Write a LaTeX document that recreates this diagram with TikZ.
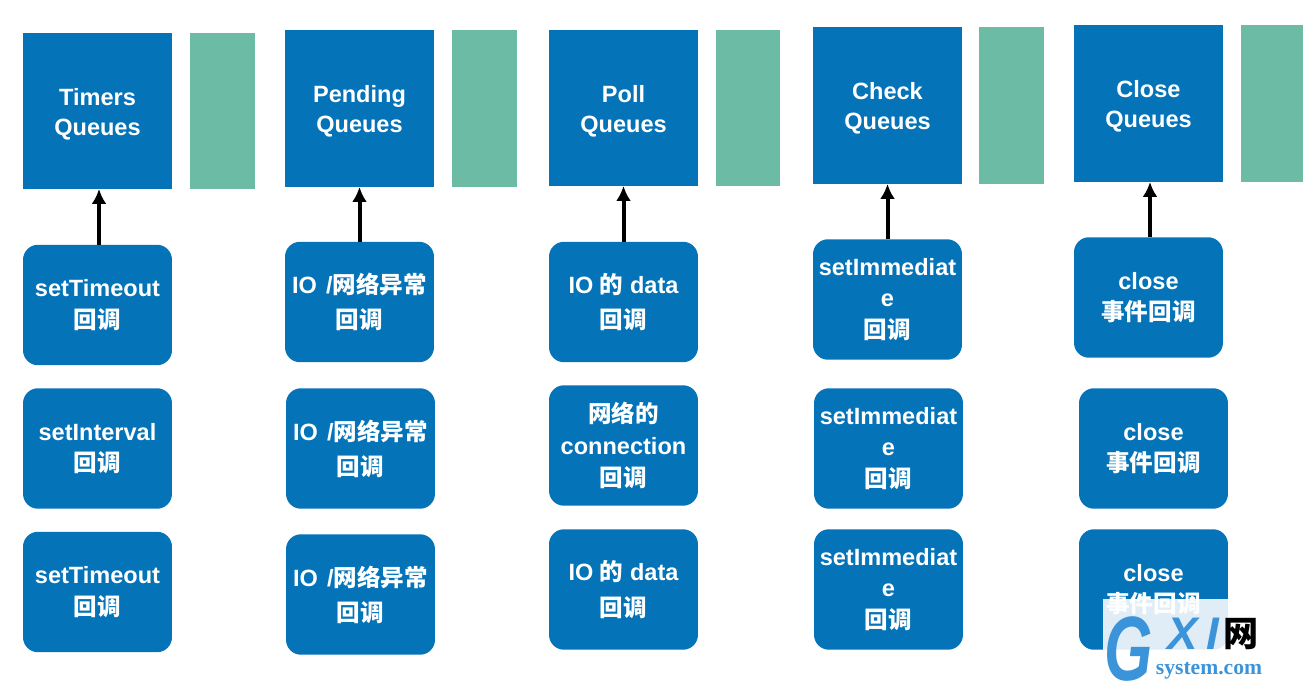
\documentclass[tikz,border=0pt]{standalone}
\usepackage{fontspec}
\usetikzlibrary{arrows.meta}
\setmainfont{Liberation Sans}
\newfontfamily\cjk{Noto Sans CJK SC}
\newfontfamily\wmserif{Liberation Serif}
\definecolor{queueblue}{HTML}{0473B8}
\definecolor{bufgreen}{HTML}{6BBBA5}
\definecolor{wmblue}{HTML}{3B94D9}
\tikzset{
    queuebox/.style={fill=queueblue, text=white, font=\bfseries\fontsize{13.4}{17}\selectfont, align=center, minimum width=2.98cm, inner sep=0pt, outer sep=0pt, execute at begin node=\rule{0pt}{30.3pt}},
    bufbox/.style={fill=bufgreen, minimum width=1.3cm, inner sep=0pt},
    cbbox/.style={fill=queueblue, text=white, align=center, minimum width=2.98cm, inner sep=0pt, outer sep=0pt, rounded corners=0.3cm, minimum height=2.41cm, font=\bfseries\fontsize{13.4}{18}\selectfont},
    wmtext/.style={text=wmblue, inner sep=0pt}
}
\begin{document}
\begin{tikzpicture}[x=0.02cm, y=-0.02cm, >={Latex[length=0.3cm, width=0.3cm]}]
    \useasboundingbox (0, 0) rectangle (1303, 699);

    % 1. Timers
    \node[queuebox, minimum height=3.12cm] (timers) at (97.5, 111) {Timers\\Queues};
    \node[bufbox, minimum height=3.12cm] (timersbuf) at (222.5, 111) {};
    \node[cbbox] (timersa) at (97.5, 305) {setTimeout\\{\cjk 回调}};
    \node[cbbox] (timersb) at (97.5, 448.5) {setInterval\\{\cjk 回调}};
    \node[cbbox] (timersc) at (97.5, 592) {setTimeout\\{\cjk 回调}};
    \draw[->, line width=0.08cm] ([xshift=0.03cm]timersa.north) -- ([xshift=0.03cm]timers.south);

    % 2. Pending
    \node[queuebox, minimum height=3.14cm] (pending) at (359.5, 108.5) {Pending\\Queues};
    \node[bufbox, minimum height=3.14cm] (pendingbuf) at (484.5, 108.5) {};
    \node[cbbox] (pendinga) at (359.5, 302) {IO \kern1.5pt/{\cjk 网络异常}\\[2pt]{\cjk 回调}};
    \node[cbbox] (pendingb) at (360.5, 448.5) {IO \kern1.5pt/{\cjk 网络异常}\\[2pt]{\cjk 回调}};
    \node[cbbox] (pendingc) at (360.5, 594.5) {IO \kern1.5pt/{\cjk 网络异常}\\[2pt]{\cjk 回调}};
    \draw[->, line width=0.08cm] (pendinga) -- (pending);

    % 3. Poll
    \node[queuebox, minimum height=3.12cm] (poll) at (623.5, 108) {Poll\\Queues};
    \node[bufbox, minimum height=3.12cm] (pollbuf) at (748, 108) {};
    \node[cbbox] (polla) at (623.5, 302) {IO {\cjk 的} data\\[2pt]{\cjk 回调}};
    \node[cbbox] (pollb) at (623.5, 445.5) {{\cjk 网络的}\\connection\\{\cjk 回调}};
    \node[cbbox] (pollc) at (623.5, 589.5) {IO {\cjk 的} data\\[2pt]{\cjk 回调}};
    \draw[->, line width=0.08cm] (polla) -- (poll);

    % 4. Check
    \node[queuebox, minimum height=3.14cm] (check) at (887.5, 105.5) {Check\\Queues};
    \node[bufbox, minimum height=3.14cm] (checkbuf) at (1011.5, 105.5) {};
    \node[cbbox] (checka) at (887.5, 299.5) {setImmediat\\e\\{\cjk 回调}};
    \node[cbbox] (checkb) at (888.5, 448.5) {setImmediat\\e\\{\cjk 回调}};
    \node[cbbox] (checkc) at (888.5, 589.5) {setImmediat\\e\\{\cjk 回调}};
    \draw[->, line width=0.08cm] (checka) -- (check);

    % 5. Close
    \node[queuebox, minimum height=3.14cm] (close) at (1148.5, 103.5) {Close\\Queues};
    \node[bufbox, minimum height=3.14cm] (closebuf) at (1273.5, 103.5) {};
    \node[cbbox] (closea) at (1148.5, 297.5) {close\\{\cjk 事件回调}};
    \node[cbbox] (closeb) at (1153.5, 448.5) {close\\{\cjk 事件回调}};
    \node[cbbox] (closec) at (1153.5, 589.5) {close\\{\cjk 事件回调}};
    \draw[->, line width=0.08cm] ([xshift=0.03cm]closea.north) -- ([xshift=0.03cm]close.south);

    % 6. Watermark
    \fill[white, opacity=0.88] (1103, 599) rectangle (1228, 650);
    \node[wmtext, font=\bfseries\itshape\fontsize{52}{52}\selectfont] (wmg) at (1129, 649) {\scalebox{0.68}[1]{G}};
    \node[wmtext, font=\bfseries\itshape\fontsize{26}{26}\selectfont] (wmx) at (1183, 634) {X};
    \node[wmtext, font=\bfseries\itshape\fontsize{26}{26}\selectfont] (wmi) at (1213, 634) {I};
    \node[inner sep=0pt, font=\cjk\bfseries\fontsize{20}{20}\selectfont] (wmnet) at (1241, 634) {网};
    \node[wmtext, font=\wmserif\bfseries\fontsize{12.3}{12.3}\selectfont] (wmsite) at (1209, 671) {system.com};
\end{tikzpicture}
\end{document}
